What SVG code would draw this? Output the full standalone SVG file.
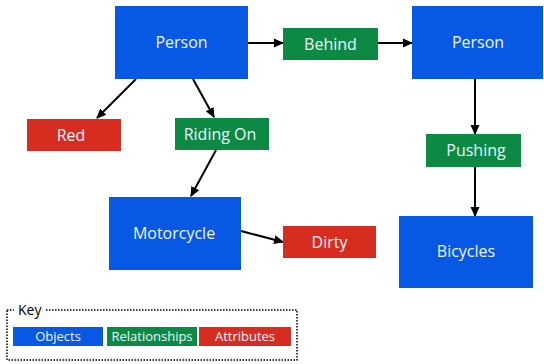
<svg xmlns="http://www.w3.org/2000/svg" width="544" height="364" viewBox="0 0 544 364">
<defs>
<marker id="ah" markerWidth="10" markerHeight="10" refX="9" refY="5" orient="auto" markerUnits="userSpaceOnUse">
<path d="M0,0.5 L10,5 L0,9.5 Z" fill="#000"/>
</marker>
</defs>
<style>
.obj{fill:#0758e2}
.rel{fill:#0c8a44}
.att{fill:#d62d20}
.t{font-family:"Open Sans","Liberation Sans",sans-serif;font-size:16px;fill:#eef3ff;text-anchor:middle;dominant-baseline:central}
.k{font-family:"Open Sans","Liberation Sans",sans-serif;font-size:13px;fill:#eef3ff;text-anchor:middle;dominant-baseline:central}
.c{stroke:#000;stroke-width:2;fill:none;marker-end:url(#ah)}
</style>
<rect width="544" height="364" fill="#fff"/>
<g id="connectors">
<line class="c" x1="248" y1="43" x2="283" y2="43"/>
<line class="c" x1="378" y1="43" x2="412" y2="43"/>
<line class="c" x1="136" y1="79" x2="97" y2="118"/>
<line class="c" x1="193" y1="79" x2="214" y2="117"/>
<line class="c" x1="216" y1="150" x2="191" y2="196"/>
<line class="c" x1="241" y1="231" x2="283" y2="242"/>
<line class="c" x1="475" y1="79" x2="475" y2="134"/>
<line class="c" x1="475" y1="167" x2="475" y2="216"/>
</g>
<g id="person1"><rect class="obj" x="115" y="6" width="133" height="73"/><text class="t" x="181.5" y="42">Person</text></g>
<g id="behind"><rect class="rel" x="283" y="28" width="95" height="32"/><text class="t" x="330.5" y="43.5">Behind</text></g>
<g id="person2"><rect class="obj" x="412" y="6" width="131" height="73"/><text class="t" x="478" y="42">Person</text></g>
<g id="red"><rect class="att" x="27" y="119" width="94" height="32"/><text class="t" x="71" y="134.5">Red</text></g>
<g id="ridingon"><rect class="rel" x="175" y="118" width="94" height="32"/><text class="t" x="220" y="133.5">Riding On</text></g>
<g id="pushing"><rect class="rel" x="426" y="134" width="95" height="33"/><text class="t" x="476" y="150">Pushing</text></g>
<g id="motorcycle"><rect class="obj" x="109" y="197" width="132" height="73"/><text class="t" x="174" y="232.5">Motorcycle</text></g>
<g id="dirty"><rect class="att" x="283" y="226" width="93" height="32"/><text class="t" x="329.5" y="241.5">Dirty</text></g>
<g id="bicycles"><rect class="obj" x="399" y="216" width="134" height="72"/><text class="t" x="466" y="250.5">Bicycles</text></g>
<g id="key">
<rect x="7" y="310" width="290" height="50" fill="none" stroke="#000" stroke-width="1.5" stroke-dasharray="1.5,1.5"/>
<rect x="14" y="302" width="31" height="16" fill="#fff"/>
<text x="18" y="309.5" font-family="'Open Sans','Liberation Sans',sans-serif" font-size="14" fill="#000" dominant-baseline="central">Key</text>
<rect class="obj" x="13" y="327" width="90" height="19"/><text class="k" x="58" y="336">Objects</text>
<rect class="rel" x="107" y="327" width="90" height="19"/><text class="k" x="152" y="336">Relationships</text>
<rect class="att" x="199" y="327" width="92" height="19"/><text class="k" x="245" y="336">Attributes</text>
</g>
</svg>
